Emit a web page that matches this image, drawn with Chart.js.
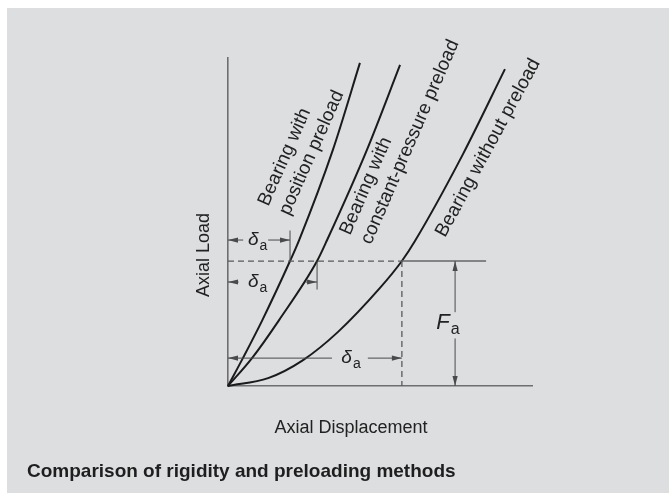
<!DOCTYPE html>
<html>
<head>
<meta charset="utf-8">
<script src="https://cdn.jsdelivr.net/npm/chart.js@4/dist/chart.umd.min.js"></script>
<style>
html, body { margin: 0; padding: 0; background: #fff; }
#wrap { position: absolute; left: 7px; top: 8px; width: 662px; height: 485px; background: #dddee0; }
</style>
</head>
<body>
<div id="wrap"><canvas id="mainGraph" width="662" height="485"></canvas></div>
<script>
// curves (axis units 0..10, no ticks shown)
var positionX = [0, 0.49, 1.13, 2.04, 2.34, 3.45, 4.34]
var positionY = [0, 0.85, 2.01, 3.81, 4.45, 7.20, 9.85]

var constantX = [0, 0.79, 1.68, 2.93, 3.26, 4.57, 5.66]
var constantY = [0, 0.85, 2.01, 3.81, 4.45, 7.20, 9.79]

var withoutX = [0, 1.32, 2.47, 3.62, 5.00, 5.72, 6.15, 7.73, 9.11]
var withoutY = [0, 0.24, 0.79, 1.65, 2.99, 3.81, 4.42, 7.07, 9.66]

var loadLevel = 3.81      // F_a
var loadDisp = 5.72       // delta_a without preload
var posDisp = 2.04        // delta_a position preload
var constDisp = 2.93      // delta_a constant-pressure preload

var xTitle = 'Axial Displacement'
var yTitle = 'Axial Load'
var chartTitle = 'Comparison of rigidity and preloading methods'

function toPoints(xs, ys) {
    var pts = []
    for (var i = 0; i < xs.length; i++) pts.push({x: xs[i], y: ys[i]})
    return pts
}

function curve(label, xs, ys) {
    return {
        label: label,
        data: toPoints(xs, ys),
        borderColor: '#1b1b1b',
        borderWidth: 2,
        pointRadius: 0,
        fill: false,
        clip: false,
        cubicInterpolationMode: 'monotone'
    }
}

var INK = '#222'
var DIM = '#4a4a4a'

function arrowHead(ctx, x1, y1, x2, y2) {
    var a = Math.atan2(y2 - y1, x2 - x1)
    var len = 10, w = 2.6
    ctx.beginPath()
    ctx.moveTo(x2, y2)
    ctx.lineTo(x2 - len * Math.cos(a) + w * Math.sin(a), y2 - len * Math.sin(a) - w * Math.cos(a))
    ctx.lineTo(x2 - len * Math.cos(a) - w * Math.sin(a), y2 - len * Math.sin(a) + w * Math.cos(a))
    ctx.closePath()
    ctx.fill()
}

function line(ctx, x1, y1, x2, y2) {
    ctx.beginPath()
    ctx.moveTo(x1, y1)
    ctx.lineTo(x2, y2)
    ctx.stroke()
}

function arrow(ctx, x1, y1, x2, y2) {
    line(ctx, x1, y1, x2, y2)
    arrowHead(ctx, x1, y1, x2, y2)
}

// italic main symbol with a small upright subscript, centred on (cx, cy)
function subText(ctx, main, sub, cx, cy, size) {
    ctx.font = 'italic ' + size + 'px "Liberation Sans", Arial, sans-serif'
    var w1 = ctx.measureText(main).width
    ctx.font = Math.round(size * 0.72) + 'px "Liberation Sans", Arial, sans-serif'
    var w2 = ctx.measureText(sub).width
    var x = cx - (w1 + w2) / 2
    ctx.textAlign = 'left'
    ctx.textBaseline = 'middle'
    ctx.font = 'italic ' + size + 'px "Liberation Sans", Arial, sans-serif'
    ctx.fillText(main, x, cy)
    ctx.font = Math.round(size * 0.72) + 'px "Liberation Sans", Arial, sans-serif'
    ctx.fillText(sub, x + w1 + 1, cy + size * 0.3)
}

function rotLines(ctx, lines, x, y, deg, gap) {
    ctx.save()
    ctx.translate(x, y)
    ctx.rotate(deg * Math.PI / 180)
    ctx.textAlign = 'left'
    ctx.textBaseline = 'alphabetic'
    for (var i = 0; i < lines.length; i++) ctx.fillText(lines[i], 0, i * gap)
    ctx.restore()
}

var curveLabels = [
    {lines: ['Bearing with', 'position preload'], x: 1.32, y: 5.46, angle: -66},
    {lines: ['Bearing with', 'constant-pressure preload'], x: 4.01, y: 4.57, angle: -66.5},
    {lines: ['Bearing without preload'], x: 7.14, y: 4.51, angle: -61.5}
]

var sketch = {
    id: 'sketch',
    afterDatasetsDraw: function(chart) {
        var ctx = chart.ctx
        var X = function(v) { return chart.scales.x.getPixelForValue(v) }
        var Y = function(v) { return chart.scales.y.getPixelForValue(v) }
        ctx.save()

        // load level: dashed up to the curve, solid beyond
        ctx.strokeStyle = '#5a5a5a'
        ctx.lineWidth = 1.3
        ctx.setLineDash([6, 4])
        line(ctx, X(0), Y(loadLevel), X(loadDisp), Y(loadLevel))
        line(ctx, X(loadDisp), Y(loadLevel), X(loadDisp), Y(0))
        ctx.setLineDash([])
        ctx.strokeStyle = '#666'
        ctx.lineWidth = 1.5
        line(ctx, X(loadDisp), Y(loadLevel), X(8.49), Y(loadLevel))

        // F_a dimension
        ctx.strokeStyle = DIM
        ctx.fillStyle = DIM
        ctx.lineWidth = 1
        arrow(ctx, X(7.47), Y(2.25), X(7.47), Y(loadLevel))
        arrow(ctx, X(7.47), Y(1.45), X(7.47), Y(0))

        // delta_a, position preload
        line(ctx, X(posDisp), Y(4.74), X(posDisp), Y(loadLevel))
        arrow(ctx, X(0.5), Y(4.45), X(0), Y(4.45))
        arrow(ctx, X(1.32), Y(4.45), X(posDisp), Y(4.45))

        // delta_a, constant-pressure preload
        line(ctx, X(constDisp), Y(loadLevel), X(constDisp), Y(2.94))
        arrow(ctx, X(0.35), Y(3.17), X(0), Y(3.17))
        arrow(ctx, X(2.55), Y(3.17), X(constDisp), Y(3.17))

        // delta_a, without preload
        arrow(ctx, X(3.42), Y(0.85), X(0), Y(0.85))
        arrow(ctx, X(4.6), Y(0.85), X(loadDisp), Y(0.85))

        ctx.fillStyle = INK
        subText(ctx, '\u03b4', 'a', X(0.96), Y(4.45), 19)
        subText(ctx, '\u03b4', 'a', X(0.96), Y(3.17), 19)
        subText(ctx, '\u03b4', 'a', X(4.03), Y(0.85), 19)
        subText(ctx, 'F', 'a', X(7.22), Y(1.93), 22)

        // curve labels
        ctx.font = '19px "Liberation Sans", Arial, sans-serif'
        curveLabels.forEach(function(l) {
            rotLines(ctx, l.lines, X(l.x), Y(l.y), l.angle, 23)
        })

        // axis titles and caption
        ctx.font = '18px "Liberation Sans", Arial, sans-serif'
        ctx.textAlign = 'center'
        ctx.textBaseline = 'middle'
        ctx.fillText(xTitle, 344, 420)
        ctx.save()
        ctx.translate(197, 247)
        ctx.rotate(-Math.PI / 2)
        ctx.fillText(yTitle, 0, 0)
        ctx.restore()
        ctx.font = 'bold 19px "Liberation Sans", Arial, sans-serif'
        ctx.textAlign = 'left'
        ctx.fillStyle = '#1e1e1e'
        ctx.fillText(chartTitle, 20, 464)
        ctx.restore()
    }
}

var ctx = document.getElementById('mainGraph').getContext('2d')

var chart = new Chart(ctx, {
    type: 'line',
    data: {
        datasets: [
            curve('Bearing with position preload', positionX, positionY),
            curve('Bearing with constant-pressure preload', constantX, constantY),
            curve('Bearing without preload', withoutX, withoutY)
        ]
    },
    options: {
        responsive: false,
        animation: false,
        events: [],
        layout: { padding: { left: 221, top: 50, right: 137, bottom: 107 } },
        plugins: { legend: { display: false }, tooltip: { enabled: false }, title: { display: false } },
        scales: {
            x: {
                type: 'linear', min: 0, max: 10,
                ticks: { display: false },
                grid: { display: true, color: 'rgba(0,0,0,0)', drawTicks: false },
                border: { display: true, color: '#6e6e6e', width: 1.6 }
            },
            y: {
                type: 'linear', min: 0, max: 10,
                ticks: { display: false },
                grid: { display: true, color: 'rgba(0,0,0,0)', drawTicks: false },
                border: { display: true, color: '#6e6e6e', width: 1.6 }
            }
        }
    },
    plugins: [sketch]
})
</script>
</body>
</html>
